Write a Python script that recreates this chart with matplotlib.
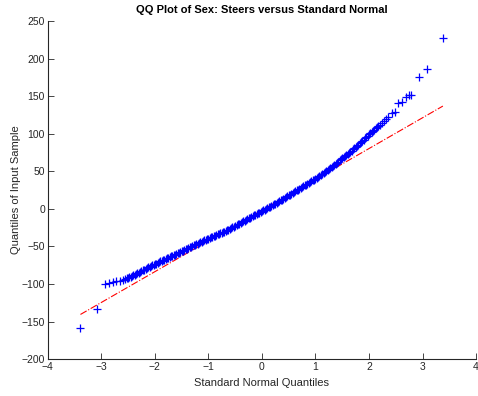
import matplotlib.pyplot as plt

# Standard normal quantiles (x) and sample quantiles (y)
normal_q = [
    -3.39, -3.08, -2.93, -2.85, -2.78, -2.72, -2.66, -2.60,
    -2.550, -2.525, -2.500, -2.475, -2.450, -2.425, -2.400, -2.375,
    -2.350, -2.325, -2.300, -2.275, -2.250, -2.225, -2.200, -2.175,
    -2.150, -2.125, -2.100, -2.075, -2.050, -2.025, -2.000, -1.975,
    -1.950, -1.925, -1.900, -1.875, -1.850, -1.825, -1.800, -1.775,
    -1.750, -1.725, -1.700, -1.675, -1.650, -1.625, -1.600, -1.575,
    -1.550, -1.525, -1.500, -1.475, -1.450, -1.425, -1.400, -1.375,
    -1.350, -1.325, -1.300, -1.275, -1.250, -1.225, -1.200, -1.175,
    -1.150, -1.125, -1.100, -1.075, -1.050, -1.025, -1.000, -0.975,
    -0.950, -0.925, -0.900, -0.875, -0.850, -0.825, -0.800, -0.775,
    -0.750, -0.725, -0.700, -0.675, -0.650, -0.625, -0.600, -0.575,
    -0.550, -0.525, -0.500, -0.475, -0.450, -0.425, -0.400, -0.375,
    -0.350, -0.325, -0.300, -0.275, -0.250, -0.225, -0.200, -0.175,
    -0.150, -0.125, -0.100, -0.075, -0.050, -0.025, 0.000, 0.025,
    0.050, 0.075, 0.100, 0.125, 0.150, 0.175, 0.200, 0.225,
    0.250, 0.275, 0.300, 0.325, 0.350, 0.375, 0.400, 0.425,
    0.450, 0.475, 0.500, 0.525, 0.550, 0.575, 0.600, 0.625,
    0.650, 0.675, 0.700, 0.725, 0.750, 0.775, 0.800, 0.825,
    0.850, 0.875, 0.900, 0.925, 0.950, 0.975, 1.000, 1.025,
    1.050, 1.075, 1.100, 1.125, 1.150, 1.175, 1.200, 1.225,
    1.250, 1.275, 1.300, 1.325, 1.350, 1.375, 1.400, 1.425,
    1.450, 1.475, 1.500, 1.525, 1.550, 1.575, 1.600, 1.625,
    1.650, 1.675, 1.700, 1.725, 1.750, 1.775, 1.800, 1.825,
    1.850, 1.875, 1.900, 1.925, 1.950, 1.975, 2.000, 2.025,
    2.050, 2.075, 2.100, 2.125, 2.150, 2.175, 2.200, 2.240,
    2.280, 2.320, 2.360, 2.430, 2.490, 2.540, 2.620, 2.690,
    2.750, 2.790, 2.940, 3.080, 3.380,
]
sample_q = [
    -158, -133, -100, -98.5, -97.5, -96.5, -95.5, -94.2,
    -93, -92.5, -92, -91.2, -90.3, -89.4, -88.5, -87.7,
    -86.8, -85.9, -85, -84, -83, -82, -81, -80,
    -79, -78, -77, -76.1, -75.2, -74.4, -73.5, -72.7,
    -71.8, -70.9, -70, -69.2, -68.3, -67.5, -66.7, -65.8,
    -65, -64.2, -63.3, -62.5, -61.7, -60.8, -60, -59.1,
    -58.2, -57.4, -56.5, -55.6, -54.7, -53.9, -53, -52.1,
    -51.2, -50.4, -49.5, -48.7, -47.8, -47, -46.2, -45.3,
    -44.5, -43.6, -42.8, -42, -41.2, -40.3, -39.5, -38.8,
    -38, -37.2, -36.4, -35.7, -34.9, -34.1, -33.3, -32.6,
    -31.8, -31, -30.2, -29.4, -28.6, -27.5, -26.5, -25.5,
    -24.5, -23.5, -22.5, -21.5, -20.5, -19.5, -18.5, -17.5,
    -16.5, -15.5, -14.5, -13.5, -12.6, -11.6, -10.7, -9.7,
    -8.8, -7.8, -6.8, -5.8, -4.9, -3.9, -3, -2,
    -1, 0, 1, 2, 3, 4, 5, 6,
    7, 8, 9, 10.1, 11.2, 12.3, 13.5, 14.6,
    15.7, 16.8, 17.9, 19, 20.2, 21.3, 22.4, 23.5,
    24.6, 25.7, 26.8, 27.9, 29, 30.1, 31.2, 32.3,
    33.4, 34.5, 35.6, 36.7, 37.8, 38.9, 40, 41.1,
    42.3, 43.5, 44.7, 45.9, 47.1, 48.5, 50, 51.4,
    52.8, 54.2, 55.6, 57.1, 58.6, 60.1, 61.6, 63,
    64.4, 65.8, 67.2, 68.6, 70, 71.4, 72.8, 74.3,
    75.8, 77.4, 79, 80.6, 82.2, 83.8, 85.4, 87.1,
    88.8, 90.5, 92.2, 93.9, 95.6, 97.3, 99, 100.6,
    102.2, 103.8, 105.5, 107.1, 108.8, 110.4, 112, 114.5,
    117, 119.5, 122, 127.5, 129, 141, 142, 149,
    151.5, 151.5, 175.5, 186, 227,
]

# Reference line (through first and third quartiles) end points
ref_x = [-3.39, 3.38]
ref_y = [-140.5, 136.8]

plt.rcParams['font.family'] = ['Liberation Sans', 'DejaVu Sans']

fig = plt.figure(figsize=(4.78, 3.96), dpi=100)
ax = fig.add_axes([0.100, 0.093, 0.896, 0.854])

ax.plot(ref_x, ref_y, color='red', linestyle='-.', linewidth=0.8)
ax.plot(normal_q, sample_q, linestyle='none', marker='+', color='blue',
        markersize=5.5, markeredgewidth=0.9)

ax.set_xlim(-4, 4)
ax.set_ylim(-200, 250)
ax.set_xticks(range(-4, 5))
ax.set_yticks(range(-200, 251, 50))

gray = '#262626'
for side in ['top', 'right']:
    ax.spines[side].set_visible(False)
for side in ['left', 'bottom']:
    ax.spines[side].set_color(gray)
    ax.spines[side].set_linewidth(0.8)
ax.tick_params(direction='in', length=4, width=0.6, colors=gray,
               labelsize=7.5, pad=2)

ax.set_title('QQ Plot of Sex: Steers versus Standard Normal',
             fontsize=8, fontweight='bold', pad=6)
ax.set_xlabel('Standard Normal Quantiles', fontsize=8, color=gray, labelpad=4)
ax.set_ylabel('Quantiles of Input Sample', fontsize=8, color=gray, labelpad=0.5)

fig.savefig('out.png', dpi=100)
